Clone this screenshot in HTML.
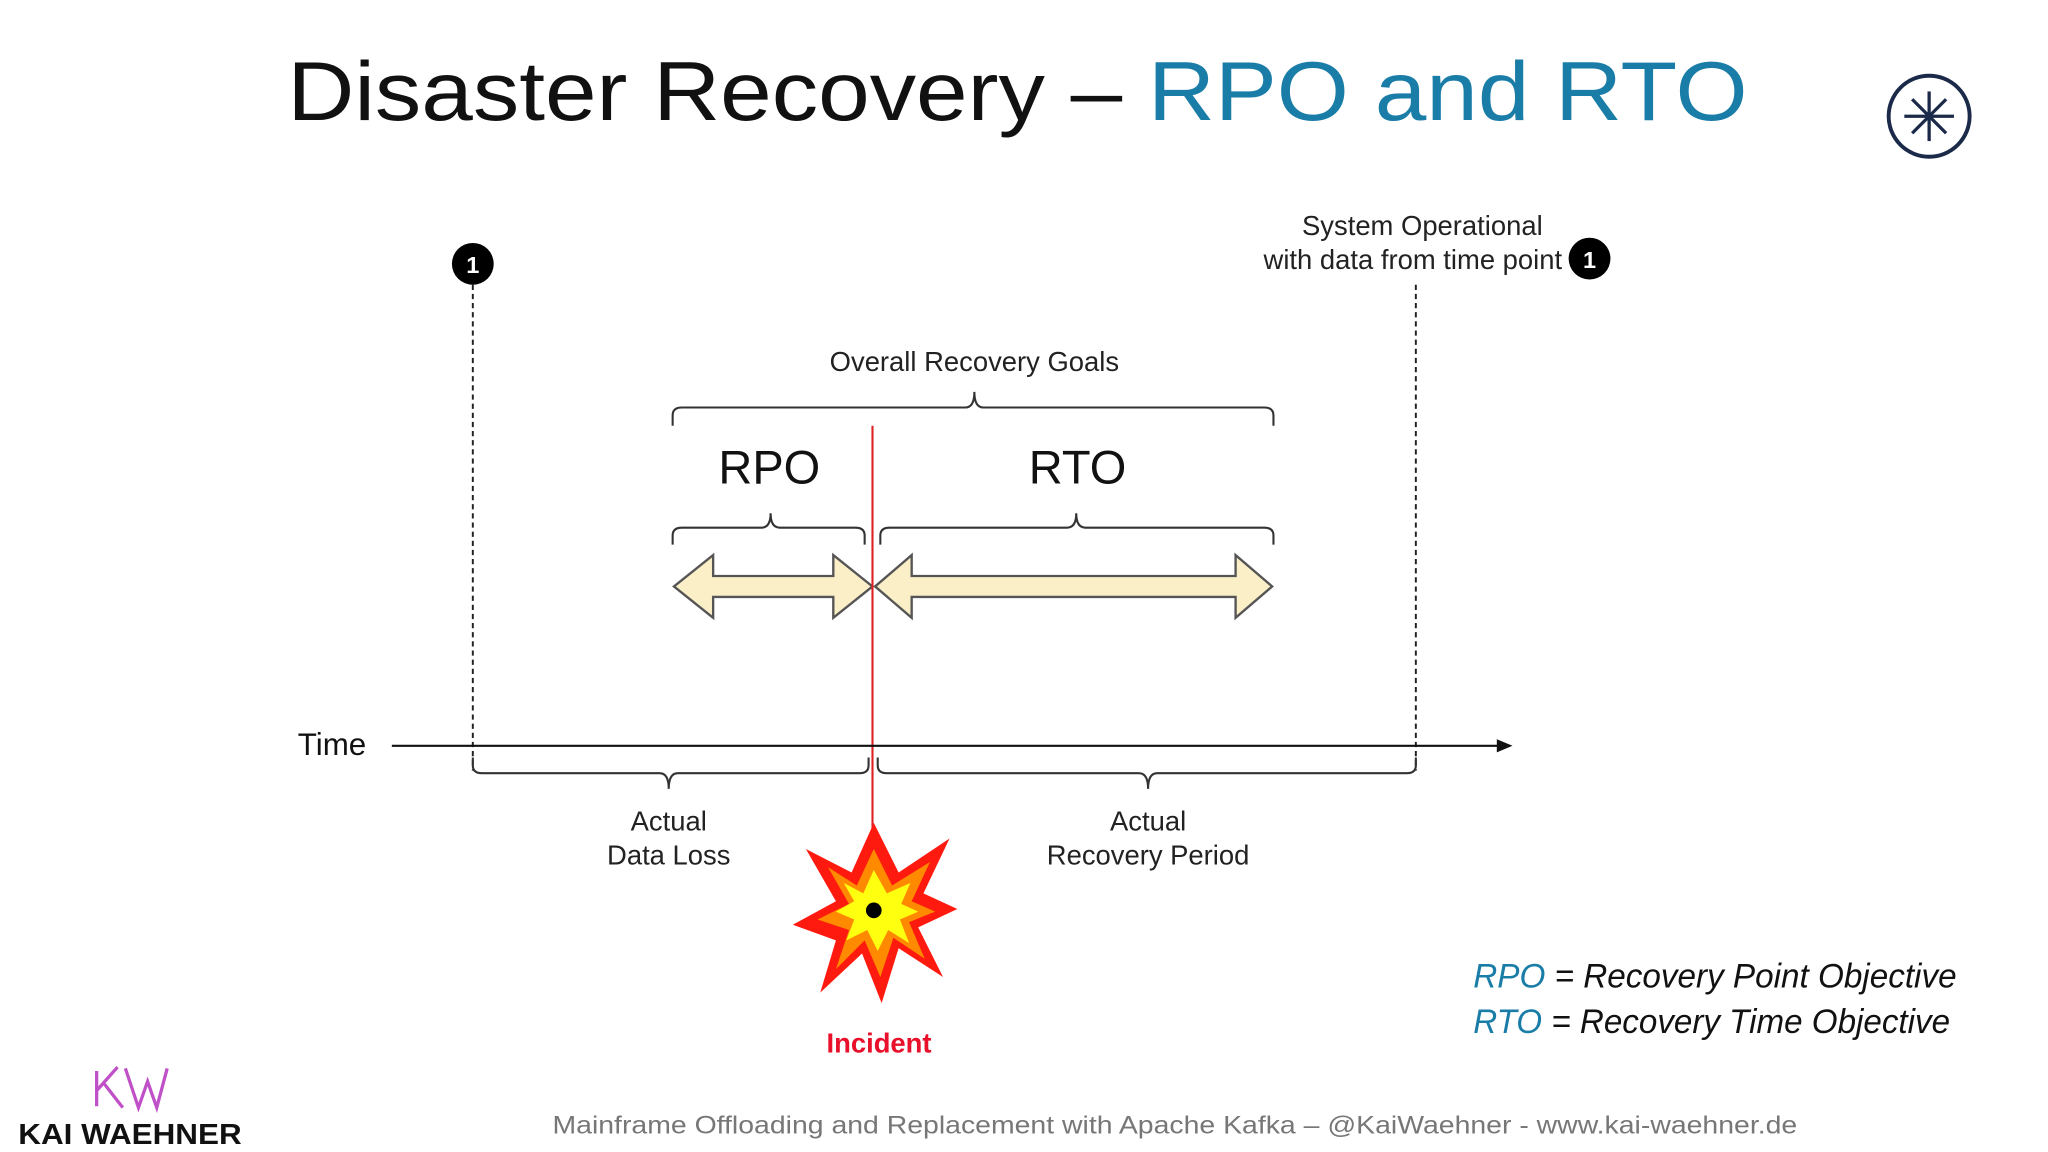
<!DOCTYPE html>
<html><head><meta charset="utf-8"><style>
html,body{margin:0;padding:0;background:#fff;}
svg{display:block;}
text{font-family:"Liberation Sans",sans-serif;}
</style></head><body>
<svg width="2048" height="1152" viewBox="0 0 1568 882" xmlns="http://www.w3.org/2000/svg">
<rect width="1568" height="882" fill="#fff"/>
<text x="220" y="92" font-size="64" textLength="1118" lengthAdjust="spacingAndGlyphs" fill="#111">Disaster Recovery – <tspan fill="#1a7da8">RPO and RTO</tspan></text>
<circle cx="1477" cy="89" r="31" fill="none" stroke="#1c2a4a" stroke-width="3"/>
<g stroke="#1c2a4a" stroke-width="2.5"><line x1="1458" y1="89" x2="1496" y2="89"/><line x1="1477" y1="70" x2="1477" y2="108"/><line x1="1464" y1="76" x2="1490" y2="102"/><line x1="1490" y1="76" x2="1464" y2="102"/></g>

<line x1="362" y1="218" x2="362" y2="590" stroke="#222" stroke-width="1.5" stroke-dasharray="4,3"/>
<line x1="1084" y1="218" x2="1084" y2="590" stroke="#222" stroke-width="1.5" stroke-dasharray="4,3"/>
<circle cx="362" cy="202" r="16" fill="#000"/><text x="362" y="209" font-size="18" font-weight="bold" fill="#fff" text-anchor="middle">1</text>
<circle cx="1217" cy="198" r="16" fill="#000"/><text x="1217" y="205" font-size="18" font-weight="bold" fill="#fff" text-anchor="middle">1</text>
<text x="1089" y="180" font-size="21" text-anchor="middle" fill="#222">System Operational</text>
<text x="1196" y="206" font-size="21" text-anchor="end" fill="#222">with data from time point</text>

<text x="746" y="284" font-size="21" text-anchor="middle" fill="#222">Overall Recovery Goals</text>
<g fill="none" stroke="#333" stroke-width="1.6">
<path d="M515 326 V318 Q515 312 522 312 H739 Q746 312 746 300 Q746 312 753 312 H968 Q975 312 975 318 V326"/>
<path d="M515 417 V410 Q515 404 522 404 H583 Q590 404 590 393 Q590 404 597 404 H655 Q662 404 662 410 V417"/>
<path d="M674 417 V410 Q674 404 681 404 H817 Q824 404 824 393 Q824 404 831 404 H968 Q975 404 975 410 V417"/>
<path d="M362 580 V586 Q362 592 369 592 H505 Q512 592 512 604 Q512 592 519 592 H658 Q665 592 665 586 V580"/>
<path d="M672 580 V586 Q672 592 679 592 H872 Q879 592 879 604 Q879 592 886 592 H1077 Q1084 592 1084 586 V580"/>
</g>
<text x="589" y="370" font-size="36" text-anchor="middle" fill="#111">RPO</text>
<text x="825" y="370" font-size="36" text-anchor="middle" fill="#111">RTO</text>

<g fill="#fbefc8" stroke="#555" stroke-width="1.8" stroke-linejoin="miter">
<polygon points="516,449 546,425 546,441 638,441 638,425 668,449 638,473 638,457 546,457 546,473"/>
<polygon points="670,449 698,425 698,441 946,441 946,425 974,449 946,473 946,457 698,457 698,473"/>
</g>
<line x1="668" y1="326" x2="668" y2="640" stroke="#e02020" stroke-width="1.6"/>

<line x1="300" y1="571" x2="1150" y2="571" stroke="#111" stroke-width="1.6"/>
<polygon points="1158,571 1146,566 1146,576" fill="#111"/>
<text x="228" y="578" font-size="24" fill="#111">Time</text>
<text x="512" y="636" font-size="21" text-anchor="middle" fill="#222">Actual</text>
<text x="512" y="662" font-size="21" text-anchor="middle" fill="#222">Data Loss</text>
<text x="879" y="636" font-size="21" text-anchor="middle" fill="#222">Actual</text>
<text x="879" y="662" font-size="21" text-anchor="middle" fill="#222">Recovery Period</text>

<polygon points="669,630 688,668 727,642 707,684 733,696 703,710 722,748 688,726 675,768 660,730 628,760 640,720 607,708 640,690 617,650 652,668" fill="#ff1a10"/>
<polygon points="669,650 683,678 712,660 698,690 716,698 696,706 708,734 684,718 674,748 662,720 640,742 650,712 626,704 650,692 634,664 656,678" fill="#ff8a00"/>
<polygon points="669,666 679,684 697,676 690,692 703,698 689,704 696,722 680,712 672,728 664,712 648,720 654,704 640,698 654,690 646,676 661,684" fill="#ffff10"/>
<circle cx="669" cy="697" r="6" fill="#000"/>
<text x="673" y="806" font-size="21" font-weight="bold" text-anchor="middle" fill="#e8102a">Incident</text>

<text x="1128" y="756" font-size="26" font-style="italic" textLength="370" lengthAdjust="spacingAndGlyphs" fill="#111"><tspan fill="#1a7da8">RPO</tspan> = Recovery Point Objective</text>
<text x="1128" y="791" font-size="26" font-style="italic" textLength="365" lengthAdjust="spacingAndGlyphs" fill="#111"><tspan fill="#1a7da8">RTO</tspan> = Recovery Time Objective</text>

<text x="423" y="868" font-size="19" textLength="953" lengthAdjust="spacingAndGlyphs" fill="#777">Mainframe Offloading and Replacement with Apache Kafka – @KaiWaehner - www.kai-waehner.de</text>

<g fill="none" stroke="#c050c8" stroke-width="2.5">
<path d="M74 847 V820 M74 835 L90 817 M80 830 L94 848"/>
<path d="M96 818 L106 848 L113 828 L120 848 L128 818"/>
</g>
<text x="14" y="876" font-size="22" font-weight="bold" textLength="171" lengthAdjust="spacingAndGlyphs" fill="#111">KAI WAEHNER</text>
</svg>
</body></html>
